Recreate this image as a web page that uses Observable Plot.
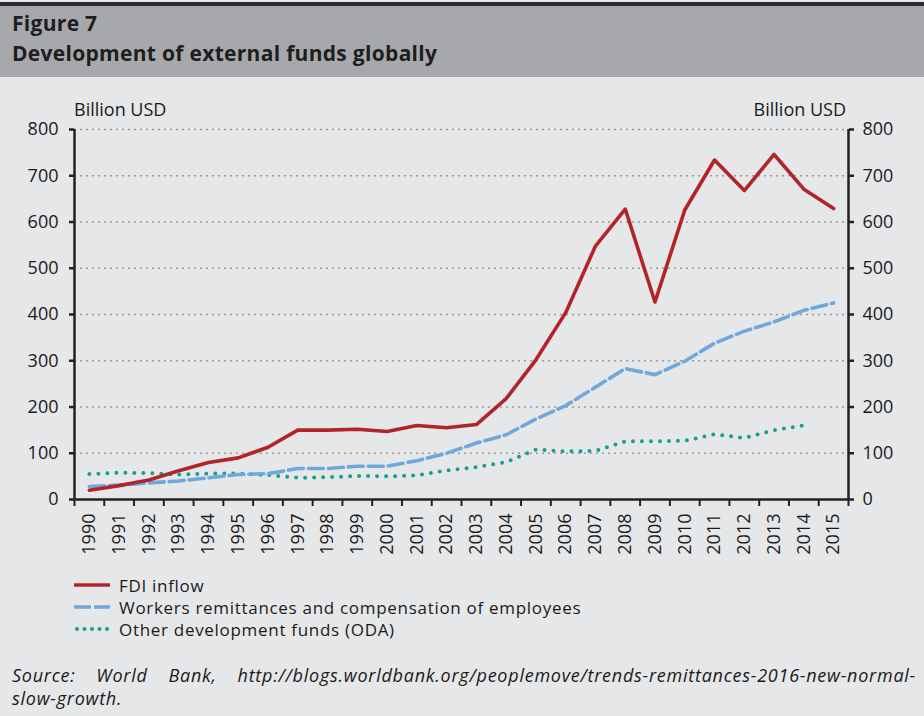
<!DOCTYPE html>
<html>
<head>
<meta charset="utf-8">
<script src="https://cdn.jsdelivr.net/npm/d3@7"></script>
<script src="https://cdn.jsdelivr.net/npm/@observablehq/plot@0.6"></script>
<style>
  html, body { margin: 0; padding: 0; }
  body { width: 924px; height: 716px; background: #e6e7e9; position: relative; overflow: hidden; font-family: "Open Sans", Lato, sans-serif; color: #1a1a1a; }
  #topline { position: absolute; left: 0; top: 2px; width: 924px; height: 4px; background: #2b2b2b; }
  #header { position: absolute; left: 0; top: 6px; width: 924px; height: 71px; background: #a7a8ab; }
  #header div { position: absolute; left: 12px; font-weight: bold; font-size: 21px; letter-spacing: 0.3px; color: #1e1e1e; }
  #chart { position: absolute; left: 0; top: 90px; }
  .unit { position: absolute; top: 97px; font-size: 18px; }
  #legend { position: absolute; left: 74px; top: 574px; font-size: 17px; letter-spacing: 0.7px; }
  #legend .row { height: 22px; display: flex; align-items: center; }
  #legend svg { margin-right: 7px; }
  #source { position: absolute; left: 12px; top: 664px; width: 904px; font-size: 18px; letter-spacing: 0.75px; font-style: italic; line-height: 23px; }
  #source .l1 { text-align: justify; text-align-last: justify; white-space: nowrap; }
</style>
</head>
<body>
<div id="topline"></div>
<div id="header">
  <div style="top:3px">Figure 7</div>
  <div style="top:33px">Development of external funds globally</div>
</div>
<div class="unit" style="left:74px">Billion USD</div>
<div class="unit" style="right:78px">Billion USD</div>
<div id="chart"></div>
<div id="legend"></div>
<div id="source"><div class="l1">Source: World Bank, http://blogs.worldbank.org/peoplemove/trends-remittances-2016-new-normal-</div><div>slow-growth.</div></div>
<script>
const years = [1990,1991,1992,1993,1994,1995,1996,1997,1998,1999,2000,2001,2002,2003,2004,2005,2006,2007,2008,2009,2010,2011,2012,2013,2014,2015];
const fdi = [20,30,42,62,80,90,113,150,150,152,147,160,155,162,218,302,404,548,628,427,626,734,668,746,671,629];
const remittances = [28,31,36,40,47,54,56,67,67,72,72,84,100,122,140,174,203,243,283,270,299,338,364,384,409,425];
const oda = [55,58,57,54,56,56,53,47,48,51,50,52,63,70,81,108,104,105,126,126,127,141,133,150,160,null];
const yTicks = [0,100,200,300,400,500,600,700,800];
const seriesNames = ["FDI inflow", "Workers remittances and compensation of employees", "Other development funds (ODA)"];
const seriesColors = ["#b3242a", "#6fa9db", "#1a9e8e"];

const rows = [];
years.forEach((yr, i) => {
  rows.push({year: yr, value: fdi[i], series: seriesNames[0]});
  rows.push({year: yr, value: remittances[i], series: seriesNames[1]});
  if (oda[i] != null) rows.push({year: yr, value: oda[i], series: seriesNames[2]});
});
const bounds = d3.range(years[0] - 0.5, years[years.length - 1] + 1, 1);
const dashes = ["none", "15,5", "0,9"];

const plot = Plot.plot({
  width: 924,
  height: 480,
  marginLeft: 74,
  marginRight: 76,
  marginTop: 39,
  marginBottom: 71,
  style: {fontSize: "18px", fontFamily: "'Open Sans', Lato, sans-serif", background: "transparent", color: "#1a1a1a", overflow: "visible"},
  x: {type: "linear", domain: [years[0] - 0.5, years[years.length - 1] + 0.5]},
  y: {domain: [0, 800]},
  marks: [
    Plot.ruleY(yTicks.slice(1), {stroke: "#9a9a9a", strokeWidth: 1.3, strokeDasharray: "2,4"}),
    Plot.axisY({anchor: "left", ticks: yTicks, tickSize: 5, tickPadding: 11, strokeWidth: 2.5, stroke: "#222", label: null, tickFormat: d => d}),
    Plot.axisY({anchor: "right", ticks: yTicks, tickSize: 5, tickPadding: 9, strokeWidth: 2.5, stroke: "#222", label: null, tickFormat: d => d}),
    Plot.axisX({ticks: bounds, tickSize: 7, tickFormat: () => "", strokeWidth: 2, stroke: "#222", label: null}),
    Plot.axisX({ticks: years, tickSize: 0, tickPadding: 14, tickRotate: -90, tickFormat: d => String(d), label: null}),
    Plot.ruleX([years[0] - 0.5, years[years.length - 1] + 0.5], {stroke: "#222", strokeWidth: 2.5}),
    Plot.ruleY([0], {stroke: "#222", strokeWidth: 2.5}),
    Plot.line(rows.filter(d => d.series === seriesNames[2]), {x: "year", y: "value", stroke: seriesColors[2], strokeWidth: 4, strokeDasharray: dashes[2], strokeLinecap: "round"}),
    Plot.line(rows.filter(d => d.series === seriesNames[1]), {x: "year", y: "value", stroke: seriesColors[1], strokeWidth: 3.6, strokeDasharray: dashes[1]}),
    Plot.line(rows.filter(d => d.series === seriesNames[0]), {x: "year", y: "value", stroke: seriesColors[0], strokeWidth: 3.6})
  ]
});
document.getElementById("chart").appendChild(plot);

const legend = document.getElementById("legend");
seriesNames.forEach((name, i) => {
  const row = document.createElement("div");
  row.className = "row";
  row.innerHTML = `<svg width="38" height="10"><line x1="${i === 2 ? 3 : 0}" y1="5" x2="36" y2="5" stroke="${seriesColors[i]}" stroke-width="${i === 2 ? 4 : 3.6}" stroke-linecap="${i === 2 ? "round" : "butt"}" stroke-dasharray="${dashes[i] === "none" ? "" : (i === 1 ? "17,3" : "0,7.5")}"/></svg><span>${name}</span>`;
  legend.appendChild(row);
});
</script>
</body>
</html>
